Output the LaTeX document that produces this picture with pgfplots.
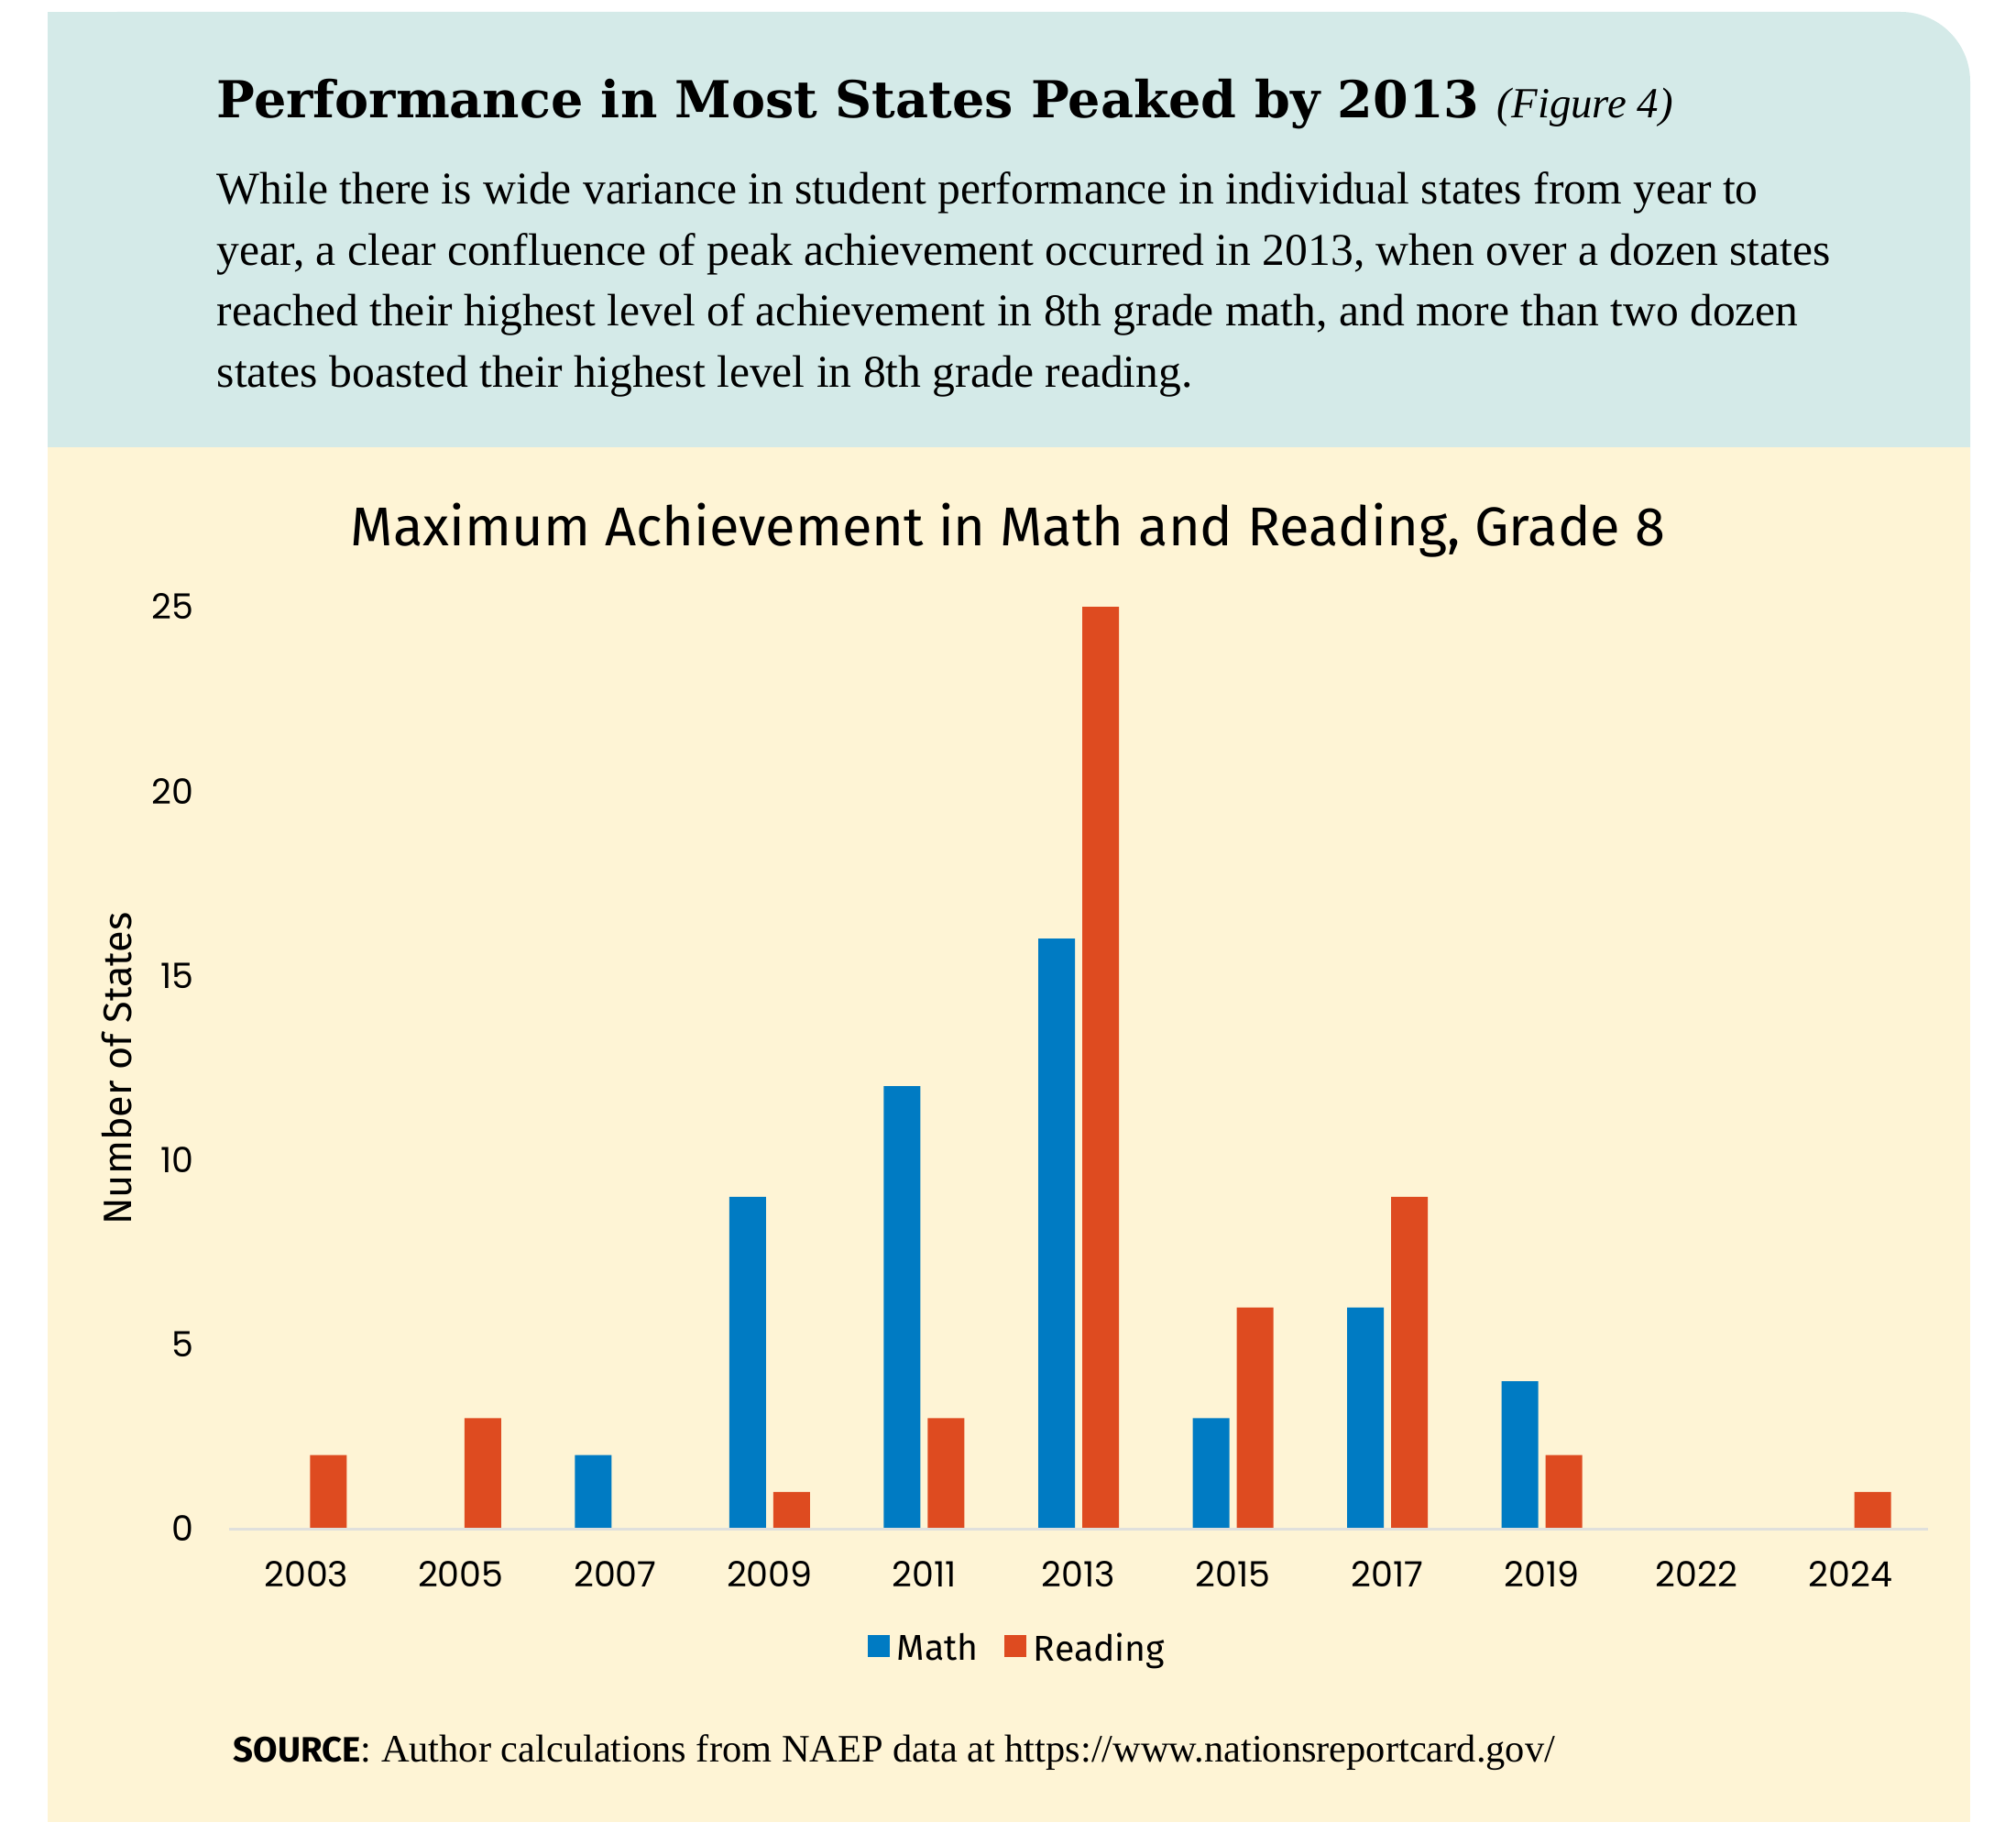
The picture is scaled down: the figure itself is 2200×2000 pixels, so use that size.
\documentclass[border=0pt]{standalone}
\usepackage{fontspec}
\usepackage{pgfplots}
\usepackage{pgfplotstable}
\pgfplotsset{compat=1.18}
\setmainfont{Liberation Serif}
\newfontfamily\headfont{DejaVu Serif}
\newfontfamily\labelfont{Fira Sans}
\newfontfamily\numfont{Poppins}
\definecolor{panelteal}{RGB}{212,234,232}
\definecolor{panelcream}{RGB}{254,244,213}
\definecolor{mathblue}{RGB}{0,123,195}
\definecolor{readred}{RGB}{222,75,32}
\definecolor{basegray}{RGB}{224,224,220}

% number of states reaching their peak score in each assessment year
\pgfplotstableread{
idx math reading
0   0    2
1   0    3
2   2    0
3   9    1
4   12   3
5   16   25
6   3    6
7   6    9
8   4    2
9   0    0
10  0    1
}\statestable

\begin{document}
\begin{tikzpicture}
\begin{scope}[x=0.25pt,y=-0.25pt]
  \useasboundingbox (0,0) rectangle (2200,2000);
  \fill[white] (0,0) rectangle (2200,2000);
  % header band with one rounded corner, then the chart band
  \fill[panelteal, rounded corners=19pt] (52,13) rectangle (2150,700);
  \fill[panelteal] (52,13) rectangle (1200,488);
  \fill[panelcream] (52,488) rectangle (2150,1988);

  \node[anchor=base west, inner sep=0pt] at (236,129)
    {\headfont\bfseries\fontsize{13.9pt}{16pt}\selectfont Performance in Most States Peaked by 2013\ {\rmfamily\mdseries\itshape\fontsize{11.7pt}{13pt}\selectfont(Figure 4)}};

  \begin{scope}[every node/.style={anchor=base west, inner sep=0pt, font=\fontsize{12.4pt}{14pt}\selectfont}]
    \node at (236,223) {While there is wide variance in student performance in individual states from year to};
    \node at (236,289.5) {year, a clear confluence of peak achievement occurred in 2013, when over a dozen states};
    \node at (236,356) {reached their highest level of achievement in 8th grade math, and more than two dozen};
    \node at (236,422.5) {states boasted their highest level in 8th grade reading.};
  \end{scope}

  \node[anchor=base, inner sep=0pt, font=\labelfont\fontsize{14.9pt}{18pt}\selectfont] at (1100,596)
    {Maximum Achievement in Math and Reading, Grade 8};

  \node[rotate=90, inner sep=0pt, font=\labelfont\fontsize{10.8pt}{13pt}\selectfont] at (128,1166)
    {Number of States};

  \node[anchor=base west, inner sep=0pt] at (254,1923)
    {{\labelfont\bfseries\fontsize{9.6pt}{11pt}\selectfont SOURCE}{\fontsize{10.6pt}{12pt}\selectfont: Author calculations from NAEP data at https://www.nationsreportcard.gov/}};
\end{scope}

\begin{axis}[
  at={(62.5pt,-417pt)}, anchor=south west,
  scale only axis, width=463.5pt, height=251.5pt,
  xmin=-0.5, xmax=10.5, ymin=0, ymax=25,
  ybar=2pt, bar width=10pt,
  axis lines*=left,
  y axis line style={draw=none},
  x axis line style={draw=basegray, line width=0.75pt},
  axis on top,
  major tick length=0pt,
  xtick={0,...,10},
  xticklabels={2003,2005,2007,2009,2011,2013,2015,2017,2019,2022,2024},
  ytick={0,5,...,25},
  /pgf/number format/assume math mode=true,
  ticklabel style={font=\numfont\fontsize{9.5pt}{11pt}\selectfont},
  yticklabel style={anchor=east, inner sep=0pt, xshift=-9.5pt},
  xticklabel style={anchor=north, inner sep=0pt, yshift=-8.75pt},
  legend style={at={(0.4655,-0.131)}, anchor=center, draw=none, fill=none,
    legend columns=-1, font=\labelfont\fontsize{9.8pt}{12pt}\selectfont,
    /tikz/every even column/.append style={column sep=5pt}},
  legend image code/.code={\fill[#1] (0pt,-2.1pt) rectangle (6pt,3.9pt);},
]
\addplot[fill=mathblue, draw=none] table[x=idx, y=math] {\statestable};
\addplot[fill=readred, draw=none] table[x=idx, y=reading] {\statestable};
\legend{Math, Reading}
\end{axis}
\end{tikzpicture}
\end{document}
